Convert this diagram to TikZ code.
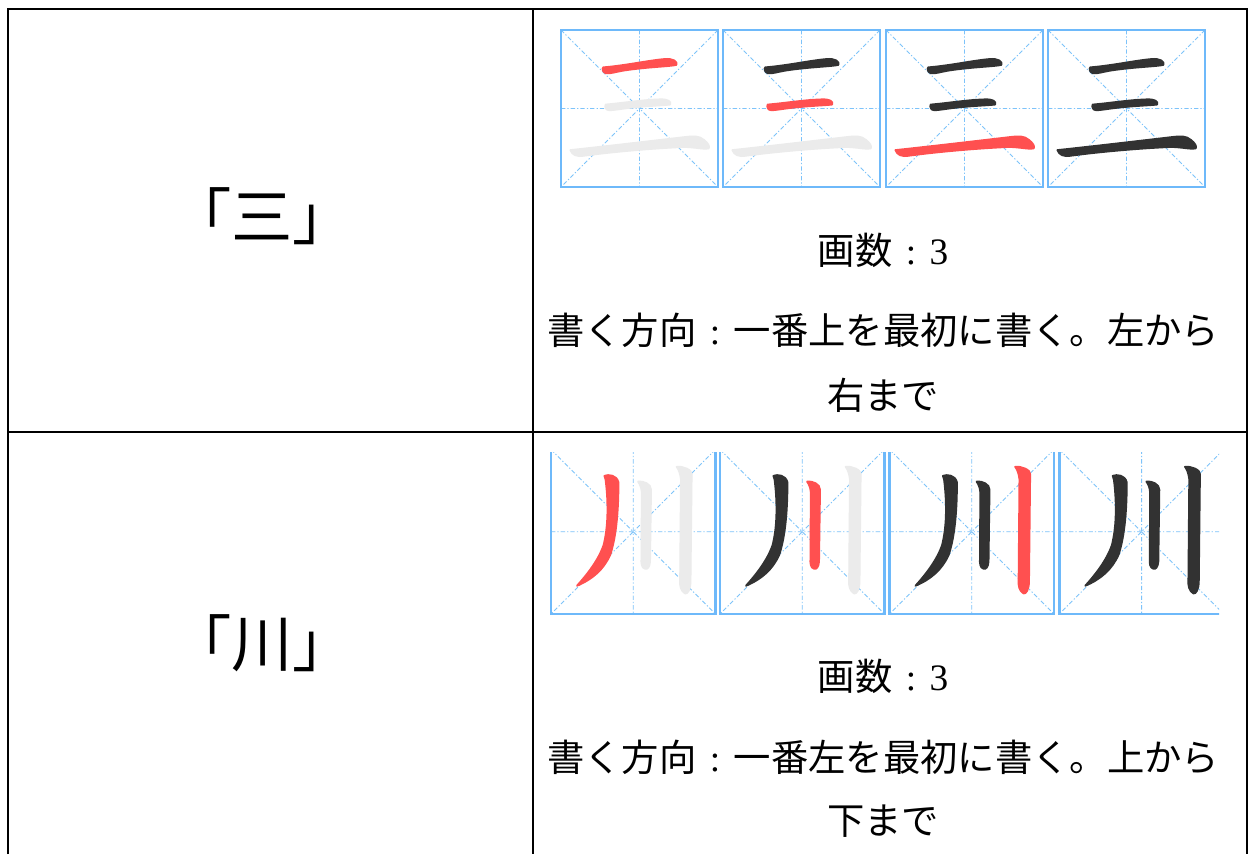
\documentclass[tikz,border=0pt]{standalone}
\usepackage{fontspec}
\setmainfont{Liberation Serif}
\newfontfamily\jpfont{Noto Sans CJK JP}
\newfontfamily\tnrfont{Liberation Serif}
\definecolor{gridblue}{RGB}{110,185,250}
\definecolor{gridthin}{RGB}{125,195,250}
\definecolor{strokered}{RGB}{255,80,80}
\definecolor{strokedark}{RGB}{50,50,50}
\definecolor{strokegrey}{RGB}{235,235,235}
\tikzset{
  tableline/.style={line width=1.6pt, black},
  gridline/.style={gridthin, line width=0.7pt, dash pattern=on 3.2pt off 1.6pt on 0.9pt off 1.6pt},
  gridborder/.style={gridblue, line width=1.8pt},
  brush/.style={line width=1.4pt, line join=round},
  celltext/.style={font=\jpfont\fontsize{28}{34}\selectfont, anchor=base, inner sep=0pt},
  bigtext/.style={font=\jpfont\fontsize{46}{54}\selectfont, anchor=base, inner sep=0pt}
}
\newcommand\jcolon{\makebox[1em]{\tnrfont :}}
% grid box: x, y, size
\newcommand\gridbox[3]{%
  \begin{scope}[shift={(#1,#2)}]
    \draw[gridline] (0,0) -- (#3,#3) (#3,0) -- (0,#3) (#3/2,0) -- (#3/2,#3) (0,#3/2) -- (#3,#3/2);
    \draw[gridborder] (0,0) rectangle (#3,#3);
  \end{scope}}
% strokes of 三 in unit box
\newcommand\sanOne[1]{\filldraw[brush,#1] (0.27,0.238) .. controls (0.42,0.225) and (0.55,0.195) .. (0.66,0.185) .. controls (0.71,0.18) and (0.745,0.20) .. (0.735,0.222) .. controls (0.70,0.232) and (0.55,0.235) .. (0.40,0.258) .. controls (0.34,0.268) and (0.31,0.28) .. (0.285,0.275) .. controls (0.265,0.268) and (0.26,0.245) .. cycle;}
\newcommand\sanTwo[1]{\filldraw[brush,#1] (0.285,0.475) .. controls (0.40,0.465) and (0.52,0.445) .. (0.63,0.442) .. controls (0.68,0.44) and (0.705,0.455) .. (0.695,0.475) .. controls (0.65,0.48) and (0.50,0.485) .. (0.38,0.503) .. controls (0.33,0.51) and (0.30,0.515) .. (0.29,0.505) .. controls (0.28,0.495) and (0.28,0.48) .. cycle;}
\newcommand\sanThree[1]{\filldraw[brush,#1] (0.06,0.765) .. controls (0.25,0.745) and (0.55,0.71) .. (0.79,0.682) .. controls (0.85,0.675) and (0.88,0.675) .. (0.91,0.70) .. controls (0.935,0.72) and (0.95,0.74) .. (0.94,0.755) .. controls (0.90,0.76) and (0.85,0.745) .. (0.78,0.745) .. controls (0.55,0.755) and (0.30,0.78) .. (0.15,0.80) .. controls (0.10,0.81) and (0.07,0.795) .. cycle;}
% strokes of 川 in unit box
\newcommand\senOne[1]{\filldraw[brush,#1] (0.325,0.16) .. controls (0.35,0.15) and (0.40,0.155) .. (0.41,0.20) .. controls (0.41,0.35) and (0.40,0.52) .. (0.36,0.64) .. controls (0.32,0.73) and (0.25,0.79) .. (0.158,0.828) .. controls (0.22,0.76) and (0.29,0.67) .. (0.32,0.58) .. controls (0.345,0.48) and (0.35,0.35) .. (0.335,0.21) .. controls (0.335,0.19) and (0.33,0.175) .. cycle;}
\newcommand\senTwo[1]{\filldraw[brush,#1] (0.53,0.195) .. controls (0.56,0.19) and (0.61,0.21) .. (0.608,0.245) -- (0.602,0.68) .. controls (0.60,0.715) and (0.585,0.73) .. (0.572,0.725) .. controls (0.55,0.72) and (0.548,0.69) .. (0.55,0.66) -- (0.552,0.26) .. controls (0.55,0.23) and (0.54,0.21) .. cycle;}
\newcommand\senThree[1]{\filldraw[brush,#1] (0.765,0.105) .. controls (0.80,0.10) and (0.86,0.125) .. (0.855,0.15) -- (0.848,0.80) .. controls (0.848,0.85) and (0.83,0.88) .. (0.815,0.875) .. controls (0.79,0.86) and (0.78,0.83) .. (0.785,0.78) -- (0.79,0.18) .. controls (0.785,0.14) and (0.775,0.12) .. cycle;}
\newcommand\sanbox[5]{% x y c1 c2 c3
  \begin{scope}[shift={(#1,#2)}, scale=157]
    \sanOne{#3}\sanTwo{#4}\sanThree{#5}
  \end{scope}}
\newcommand\senbox[5]{%
  \begin{scope}[shift={(#1,#2)}, scale=164.5]
    \senOne{#3}\senTwo{#4}\senThree{#5}
  \end{scope}}

\begin{document}
\begin{tikzpicture}[x=0.75pt, y=-0.75pt]
\useasboundingbox (0,0) rectangle (1249,854);
\fill[white] (0,0) rectangle (1249,854);

% table
\draw[tableline] (8,854) -- (8,9) -- (1247,9) -- (1247,854);
\draw[tableline] (533,9) -- (533,854);
\draw[tableline] (8,432) -- (1247,432);

% left column
\node[bigtext] (k1) at (262,239) {「三」};
\node[bigtext] (k2) at (262,666) {「川」};

% top stroke-order grid
\gridbox{561}{30}{157}
\gridbox{723}{30}{157}
\gridbox{886}{30}{157}
\gridbox{1048}{30}{157}
\sanbox{561}{30}{strokered}{strokegrey}{strokegrey}
\sanbox{723}{30}{strokedark}{strokered}{strokegrey}
\sanbox{886}{30}{strokedark}{strokedark}{strokered}
\sanbox{1048}{30}{strokedark}{strokedark}{strokedark}

% bottom stroke-order grid (cropped)
\begin{scope}
  \clip (548,452) rectangle (1219,620);
  \gridbox{551}{449.5}{164.5}
  \gridbox{720}{449.5}{164.5}
  \gridbox{889.5}{449.5}{164.5}
  \gridbox{1059.3}{449.5}{164.5}
  \senbox{551}{449.5}{strokered}{strokegrey}{strokegrey}
  \senbox{720}{449.5}{strokedark}{strokered}{strokegrey}
  \senbox{889.5}{449.5}{strokedark}{strokedark}{strokered}
  \senbox{1059.3}{449.5}{strokedark}{strokedark}{strokedark}
\end{scope}

% right column texts
\node[celltext] (a1) at (883,264) {画数\jcolon{\tnrfont 3}};
\node[celltext] (a2) at (883,344) {書く方向\jcolon 一番上を最初に書く。左から};
\node[celltext] (a3) at (883,409) {右まで};
\node[celltext] (b1) at (883,690) {画数\jcolon{\tnrfont 3}};
\node[celltext] (b2) at (883,771) {書く方向\jcolon 一番左を最初に書く。上から};
\node[celltext] (b3) at (883,834) {下まで};
\end{tikzpicture}
\end{document}
